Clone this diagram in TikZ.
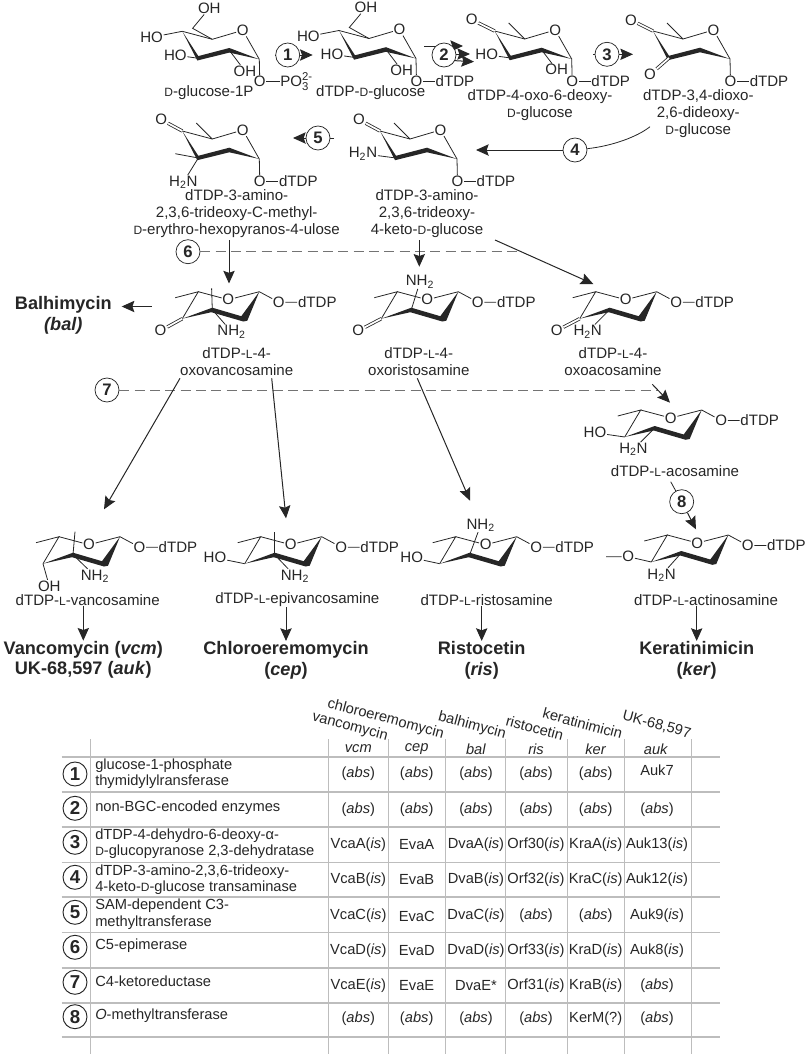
\documentclass[tikz,border=0pt]{standalone}
\usepackage{fontspec}
\setmainfont{Liberation Sans}
\usetikzlibrary{arrows.meta}

\definecolor{inkc}{HTML}{262626}
\definecolor{gridc}{HTML}{BDBDBD}
\newcommand{\capD}{{\fontsize{9}{9}\selectfont D}}
\newcommand{\capL}{{\fontsize{9}{9}\selectfont L}}
\newcommand{\tsub}[1]{\textsubscript{#1}}
\newcommand{\ab}{(\textit{abs})}
\newcommand{\isg}[1]{#1(\textit{is})}

\tikzset{
  bond/.style={line width=.6pt,draw=inkc},
  dbond/.style={bond,double,double distance=1.3pt},
  arr/.style={-{Stealth[length=9.5pt,width=8.5pt,inset=1.5pt]},line width=.75pt,draw=inkc},
  dashline/.style={draw=black!55,line width=.6pt,dash pattern=on 7.5pt off 4pt},
  atom/.style={inner sep=.4pt,text=inkc,font=\fontsize{11.3}{12}\selectfont},
  sname/.style={inner sep=0pt,text=inkc,align=center,font=\fontsize{11.3}{12.7}\selectfont},
  drug/.style={inner sep=0pt,text=inkc,align=center,font=\fontsize{13.6}{15.5}\selectfont\bfseries},
  stepnum/.style={shape=circle,draw=inkc,line width=.55pt,fill=white,minimum size=18pt,inner sep=0pt,text=inkc,font=\fontsize{12.5}{13}\selectfont\bfseries},
  rownum/.style={stepnum,line width=.7pt,font=\fontsize{14}{15}\selectfont\bfseries},
  enz/.style={anchor=west,inner sep=0pt,text=inkc,align=left,font=\fontsize{11}{12.2}\selectfont},
  cell/.style={inner sep=0pt,text=inkc,font=\fontsize{11}{12}\selectfont},
  gridline/.style={draw=gridc,line width=1pt},
  headcell/.style={cell,rotate=-15}
}

% chair drawn upright, #3 = prefix of the names, #4 = what hangs on it
\newcommand{\dsugar}[4]{
\begin{scope}[shift={(#1,#2)}]
  \coordinate (#3c1) at (0,0);
  \coordinate (#3c2) at (-30,-9);
  \coordinate (#3c3) at (-61,-1);
  \coordinate (#3c4) at (-77,-28);
  \coordinate (#3c5) at (-47,-20);
  \node[atom] (#3r) at (-16.5,-29) {O};
  \fill[inkc] (-77,-28) -- (-61,-3.2) -- (-30,-11.3) -- (0,0) -- (-30,-6.7) -- (-62,1.2) -- cycle;
  \draw[bond] (#3c4) -- (#3c5) -- (#3r) -- (#3c1);
  \node[atom] (#3o) at (.5,22.5) {O};
  \draw[bond] (#3c1) -- (#3o);
  #4
\end{scope}
}
% chair drawn the other way round, with its methyl and O-dTDP
\newcommand{\lsugar}[4]{
\begin{scope}[shift={(#1,#2)}]
  \coordinate (#3c1) at (0,0);
  \coordinate (#3c2) at (-15,27);
  \coordinate (#3c3) at (-47,18);
  \coordinate (#3c4) at (-77,27);
  \coordinate (#3c5) at (-61,0);
  \coordinate (#3me) at (-84,6);
  \node[atom] (#3r) at (-31,8) {O};
  \fill[inkc] (-77,27) -- (-47,16) -- (-18,24.5) -- (0,0) -- (-12,29) -- (-16,29.8) -- (-48,20.5) -- cycle;
  \draw[bond] (#3me) -- (#3c5) -- (#3c4);
  \draw[bond] (#3c5) -- (#3r) -- (#3c1);
  \node[atom] (#3o) at (19.5,10.5) {O};
  \node[atom] (#3t) at (58,10.5) {dTDP};
  \draw[bond] (#3c1) -- (#3o) -- (#3t);
  #4
\end{scope}
}
\newcommand{\dtdp}[1]{
  \node[atom] (#1t) at (39,22.5) {dTDP};
  \draw[bond] (#1o) -- (#1t);
}

\begin{document}
\begin{tikzpicture}[x=.75pt,y=-.75pt]
\useasboundingbox (0,0) rectangle (809,1057);

% sugars
\dsugar{259.3}{59.3}{a}{
  \node[atom] (aoh) at (-50,-51) {OH};
  \coordinate (ac6) at (-66.7,-31);
  \draw[bond] (ac5) -- (ac6) -- (aoh);
  \node[atom] (aho) at (-107.7,-22) {HO};
  \draw[bond] (ac4) -- (aho);
  \node[atom] (ahot) at (-84,-4.3) {HO};
  \draw[bond] (ac3) -- (ahot);
  \node[atom] (aoht) at (-14.3,11.7) {OH};
  \draw[bond] (ac2) -- (aoht);
  \node[atom] (apo) at (37,22.5) {PO\rlap{\raisebox{-3pt}{\fontsize{8.5}{9}\selectfont 3}}\raisebox{4.5pt}{\fontsize{8.5}{9}\selectfont 2-}};
  \draw[bond] (ao) -- (apo);
}
\dsugar{416}{58.5}{b}{
  \node[atom] (boh) at (-50,-51) {OH};
  \coordinate (bc6) at (-66.7,-31);
  \draw[bond] (bc5) -- (bc6) -- (boh);
  \node[atom] (bho) at (-107.7,-22) {HO};
  \draw[bond] (bc4) -- (bho);
  \node[atom] (bhot) at (-84,-4.3) {HO};
  \draw[bond] (bc3) -- (bhot);
  \node[atom] (boht) at (-14.3,11.7) {OH};
  \draw[bond] (bc2) -- (boht);
  \dtdp{b}
}
\dsugar{571.7}{59}{c}{
  \coordinate (cme) at (-63,-36);
  \draw[bond] (cc5) -- (cme);
  \node[atom] (cko) at (-100,-39.3) {O};
  \draw[dbond] (cc4) -- (cko);
  \node[atom] (chot) at (-85,-4.3) {HO};
  \draw[bond] (cc3) -- (chot);
  \node[atom] (coht) at (-15,10.7) {OH};
  \draw[bond] (cc2) -- (coht);
  \dtdp{c}
}
\dsugar{730}{59}{d}{
  \coordinate (dme) at (-63,-36);
  \draw[bond] (dc5) -- (dme);
  \node[atom] (dko) at (-99,-39) {O};
  \draw[dbond] (dc4) -- (dko);
  \node[atom] (dkt) at (-80,15.7) {O};
  \draw[dbond] (dc3) -- (dkt);
  \dtdp{d}
}
\dsugar{457}{159}{e}{
  \coordinate (eme) at (-63,-36);
  \draw[bond] (ec5) -- (eme);
  \node[atom] (eko) at (-98,-39.3) {O};
  \draw[dbond] (ec4) -- (eko);
  \node[atom] (enh) at (-94,-5.3) {H\tsub{2}N};
  \draw[bond] (ec3) -- (enh);
  \dtdp{e}
}
\dsugar{259.3}{159}{f}{
  \coordinate (fme) at (-63,-36);
  \draw[bond] (fc5) -- (fme);
  \node[atom] (fko) at (-98,-39.3) {O};
  \draw[dbond] (fc4) -- (fko);
  \coordinate (fmt) at (-84,-5.3);
  \draw[bond] (fc3) -- (fmt);
  \node[atom] (fnh) at (-76,23.3) {H\tsub{2}N};
  \draw[bond] (fc3) -- (fnh);
  \dtdp{f}
}
\lsugar{259.3}{291.7}{g}{
  \coordinate (gax) at (-47.7,-3.3);
  \draw[bond] (gc3) -- (gax);
  \node[atom] (gko) at (-98.7,39) {O};
  \draw[dbond] (gc4) -- (gko);
  \node[atom] (gnh) at (-27.7,40) {NH\tsub{2}};
  \draw[bond] (gc3) -- (gnh);
}
\lsugar{458.3}{291.7}{h}{
  \node[atom] (hnh) at (-38.3,-10) {NH\tsub{2}};
  \draw[bond] (hc3) -- (hnh);
  \node[atom] (hko) at (-100,39) {O};
  \draw[dbond] (hc4) -- (hko);
}
\lsugar{656.7}{291.7}{i}{
  \node[atom] (iko) at (-100,39) {O};
  \draw[dbond] (ic4) -- (iko);
  \node[atom] (inh) at (-69,40) {H\tsub{2}N};
  \draw[bond] (ic3) -- (inh);
}
\lsugar{701.7}{410}{j}{
  \node[atom] (jho) at (-106.7,22.7) {HO};
  \draw[bond] (jc4) -- (jho);
  \node[atom] (jnh) at (-68.3,39.3) {H\tsub{2}N};
  \draw[bond] (jc3) -- (jnh);
}
\lsugar{120}{536.7}{k}{
  \coordinate (kax) at (-45,-5);
  \draw[bond] (kc3) -- (kax);
  \node[atom] (koh) at (-70.7,49.3) {OH};
  \draw[bond] (kc4) -- (koh);
  \node[atom] (knh) at (-25,39.3) {NH\tsub{2}};
  \draw[bond] (kc3) -- (knh);
}
\lsugar{321.7}{536.7}{l}{
  \coordinate (lax) at (-47,-5);
  \draw[bond] (lc3) -- (lax);
  \node[atom] (lho) at (-106.7,21) {HO};
  \draw[bond] (lc4) -- (lho);
  \node[atom] (lnh) at (-26.7,39.3) {NH\tsub{2}};
  \draw[bond] (lc3) -- (lnh);
}
\lsugar{516.7}{536.7}{m}{
  \node[atom] (mnh) at (-36,-11.7) {NH\tsub{2}};
  \draw[bond] (mc3) -- (mnh);
  \node[atom] (mho) at (-105,21) {HO};
  \draw[bond] (mc4) -- (mho);
}
\lsugar{728.3}{535}{n}{
  \node[atom] (nmo) at (-100,21.7) {O};
  \coordinate (nme2) at (-122.3,21.7);
  \draw[bond] (nme2) -- (nmo) -- (nc4);
  \node[atom] (nnh) at (-66.7,40) {H\tsub{2}N};
  \draw[bond] (nc3) -- (nnh);
}

% names of the sugars
\node[sname] (aname) at (209,93) {\capD-glucose-1P};
\node[sname] (bname) at (370.7,93) {dTDP-\capD-glucose};
\node[sname] (cname) at (540,105.5) {dTDP-4-oxo-6-deoxy-\\\capD-glucose};
\node[sname] (dname) at (698.3,114) {dTDP-3,4-dioxo-\\2,6-dideoxy-\\\capD-glucose};
\node[sname] (ename) at (427,214) {dTDP-3-amino-\\2,3,6-trideoxy-\\4-keto-\capD-glucose};
\node[sname] (fname) at (236.7,214) {dTDP-3-amino-\\2,3,6-trideoxy-C-methyl-\\\capD-erythro-hexopyranos-4-ulose};
\node[sname] (gname) at (236.7,361.7) {dTDP-\capL-4-\\oxovancosamine};
\node[sname] (hname) at (418.8,361.7) {dTDP-\capL-4-\\oxoristosamine};
\node[sname] (iname) at (613,361.7) {dTDP-\capL-4-\\oxoacosamine};
\node[sname] (jname) at (675,470.7) {dTDP-\capL-acosamine};
\node[sname] (kname) at (87.7,600) {dTDP-\capL-vancosamine};
\node[sname] (lname) at (297.3,600) {dTDP-\capL-epivancosamine};
\node[sname] (mname) at (486.7,600) {dTDP-\capL-ristosamine};
\node[sname] (nname) at (706,600) {dTDP-\capL-actinosamine};

% end products
\node[drug] (bal) at (63.3,315.5) {Balhimycin\\\textit{(bal)}};
\node[drug] (kdrug) at (83.3,659.7) {Vancomycin (\textit{vcm})\\UK-68,597 (\textit{auk})};
\node[drug] (ldrug) at (286,660) {Chloroeremomycin\\(\textit{cep})};
\node[drug] (mdrug) at (481.7,660) {Ristocetin\\(\textit{ris})};
\node[drug] (ndrug) at (696.7,660) {Keratinimicin\\(\textit{ker})};

% free ends of the arrows
\coordinate (t1a) at (275,55);
\coordinate (t1b) at (312.7,55);
\coordinate (t2a) at (424,46);
\coordinate (t2b) at (463,46);
\coordinate (t2c) at (431.7,54);
\coordinate (t2d) at (470,54);
\coordinate (t2e) at (452,60.5);
\coordinate (t2f) at (474,61.7);
\coordinate (t3a) at (593,54.3);
\coordinate (t3b) at (633,54.3);
\coordinate (t4a) at (650,126.7);
\coordinate (t4b) at (476,150);
\coordinate (t5a) at (334,138);
\coordinate (t5b) at (293,138);
\coordinate (t6a) at (520,251.7);
\coordinate (p1a) at (229,240);
\coordinate (p1b) at (229,283.5);
\coordinate (p2a) at (419.3,240);
\coordinate (p2b) at (419.3,266.7);
\coordinate (p3a) at (495,240);
\coordinate (p3b) at (593.3,284);
\coordinate (balt) at (151.7,306.5);
\coordinate (balh) at (121.7,306.5);
\coordinate (t7a) at (658,390);
\coordinate (p4a) at (652.3,384.3);
\coordinate (p4b) at (670,402.7);
\coordinate (p5a) at (180,378.3);
\coordinate (p5b) at (104,509.3);
\coordinate (p6a) at (271.7,378.3);
\coordinate (p6b) at (286,518.3);
\coordinate (p7a) at (417.3,378.3);
\coordinate (p7b) at (470,500.7);
\coordinate (t8a) at (670.7,481.7);
\coordinate (t8b) at (696,529.3);

% arrows of step 2 run behind their circle
\draw[arr] (t2a) -- (t2b);
\draw[arr] (t2c) -- (t2d);
\draw[arr] (t2e) -- (t2f);

% steps
\node[stepnum] (s1) at (287.7,55) {1};
\node[stepnum] (s2) at (444,55) {2};
\node[stepnum] (s3) at (607,54.3) {3};
\node[stepnum] (s4) at (575,150) {4};
\node[stepnum] (s5) at (318,138) {5};
\node[stepnum] (s6) at (188,251.7) {6};
\node[stepnum] (s7) at (107,390) {7};
\node[stepnum] (s8) at (681.7,501.7) {8};

% arrows
\draw[bond] (t1a) -- (s1);
\draw[arr] (s1) -- (t1b);
\draw[bond] (t3a) -- (s3);
\draw[arr] (s3) -- (t3b);
\draw[bond] (t4a) .. controls (637,137) and (612,146) .. (s4);
\draw[arr] (s4) -- (t4b);
\draw[bond] (t5a) -- (s5);
\draw[arr] (s5) -- (t5b);
\draw[dashline] (s6) -- (t6a);
\draw[arr] (p1a) -- (p1b);
\draw[arr] (p2a) -- (p2b);
\draw[arr] (p3a) -- (p3b);
\draw[arr] (balt) -- (balh);
\draw[dashline] (s7) -- (t7a);
\draw[arr] (p4a) -- (p4b);
\draw[arr] (p5a) -- (p5b);
\draw[arr] (p6a) -- (p6b);
\draw[arr] (p7a) -- (p7b);
\draw[bond] (t8a) -- (s8);
\draw[arr] (s8) -- (t8b);
\draw[arr] (kdrug.north |- kname.south) -- (kdrug.north);
\draw[arr] (ldrug.north |- lname.south) -- (ldrug.north);
\draw[arr] (mdrug.north |- mname.south) -- (mdrug.north);
\draw[arr] (ndrug.north |- nname.south) -- (ndrug.north);

% table grid
\foreach \yy [count=\i] in {756.7,791.7,827,862.3,896.7,932.3,967.7,1002.7,1036.7}
  \draw[gridline,line width=1.2pt] (61.7,\yy) coordinate (hl\i) -- (720,\yy) coordinate (hr\i);
\foreach \xx [count=\i] in {90.7,328.3,388.3,445.7,505.7,567.3,624.3,691.7}
  \draw[gridline] (\xx,739.3) coordinate (vt\i) -- (\xx,1054) coordinate (vb\i);

% table head
\node[headcell] (h1) at (350,726.7) {vancomycin};
\node[headcell] (h2) at (385.7,719) {chloroeremomycin};
\node[headcell] (h3) at (472,726) {balhimycin};
\node[headcell] (h4) at (534.7,727.7) {ristocetin};
\node[headcell] (h5) at (582.7,723.3) {keratinimicin};
\node[headcell] (h6) at (656.7,725) {UK-68,597};
\foreach \xx/\gn [count=\i] in {358.3/vcm,416.7/cep,476/bal,536/ris,595.7/ker,656/auk}
  \node[cell] (g\i) at (\xx,749) {\textit{\gn}};

% table rows
\foreach \yy [count=\i] in {774,808.3,842.3,877.3,912.3,947.3,982.3,1016.7}
  \node[rownum] (n\i) at (75,\yy) {\i};
\node[enz] (e1) at (95,773.7) {glucose-1-phosphate\\thymidylylransferase};
\node[enz] (e2) at (95,807.3) {non-BGC-encoded enzymes};
\node[enz] (e3) at (95,844) {dTDP-4-dehydro-6-deoxy-α-\\\capD-glucopyranose 2,3-dehydratase};
\node[enz] (e4) at (95,879.5) {dTDP-3-amino-2,3,6-trideoxy-\\4-keto-\capD-glucose transaminase};
\node[enz] (e5) at (95,914.3) {SAM-dependent C3-\\methyltransferase};
\node[enz] (e6) at (95,946) {C5-epimerase};
\node[enz] (e7) at (95,981) {C4-ketoreductase};
\node[enz] (e8) at (95,1016) {\textit{O}-methyltransferase};

\foreach \yy/\ca/\cb/\cc/\cd/\ce/\cf [count=\i] in {
  774/\ab/\ab/\ab/\ab/\ab/{},
  810/\ab/\ab/\ab/\ab/\ab/\ab,
  845/\isg{VcaA}/EvaA/\isg{DvaA}/\isg{Orf30}/\isg{KraA}/\isg{Auk13},
  880/\isg{VcaB}/EvaB/\isg{DvaB}/\isg{Orf32}/\isg{KraC}/\isg{Auk12},
  916/\isg{VcaC}/EvaC/\isg{DvaC}/\ab/\ab/\isg{Auk9},
  951/\isg{VcaD}/EvaD/\isg{DvaD}/\isg{Orf33}/\isg{KraD}/\isg{Auk8},
  985.7/\isg{VcaE}/EvaE/DvaE*/\isg{Orf31}/\isg{KraB}/\ab,
  1019/\ab/\ab/\ab/\ab/KerM(?)/\ab}
{
  \node[cell] (v\i a) at (358.3,\yy) {\ca};
  \node[cell] (v\i b) at (416.7,\yy) {\cb};
  \node[cell] (v\i c) at (476,\yy) {\cc};
  \node[cell] (v\i d) at (536,\yy) {\cd};
  \node[cell] (v\i e) at (595.7,\yy) {\ce};
  \node[cell] (v\i f) at (657,\yy) {\cf};
}
\node[cell] (auk7) at (657,770.7) {Auk7};
\end{tikzpicture}
\end{document}
